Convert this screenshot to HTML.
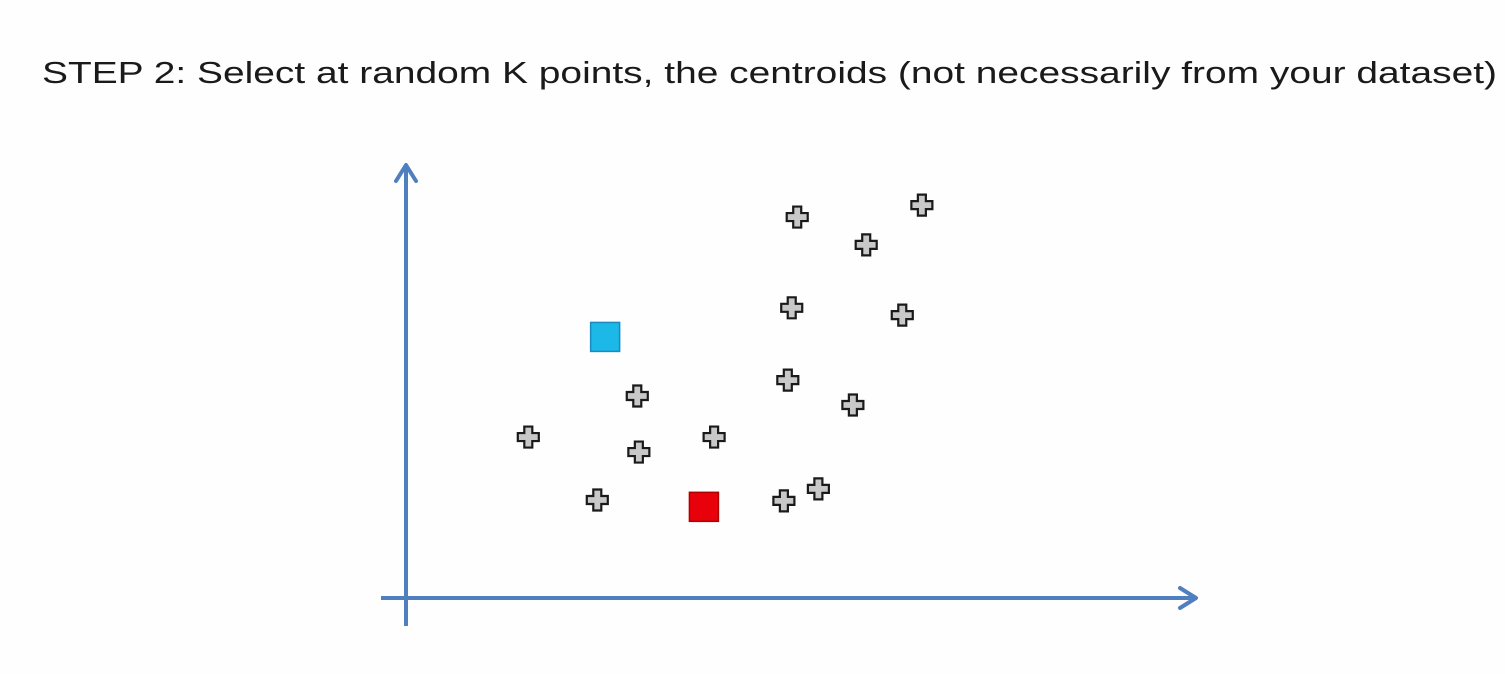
<!DOCTYPE html>
<html><head><meta charset="utf-8"><style>
html,body{margin:0;padding:0;background:#fefefe;width:1505px;height:674px;overflow:hidden}
svg{display:block}
</style></head><body>
<svg id="chart" width="1505" height="674">
<text x="42" y="83" font-family="Liberation Sans, sans-serif" font-size="31" fill="#1a1a1a" textLength="1455" lengthAdjust="spacingAndGlyphs">STEP 2: Select at random K points, the centroids (not necessarily from your dataset)</text>
<g>
<line x1="406" y1="626" x2="406" y2="165" stroke="#4f7fbf" stroke-width="4"/>
<polyline points="396,181 406,165 416,181" fill="none" stroke="#4f7fbf" stroke-width="4" stroke-linecap="round" stroke-linejoin="round"/>
</g>
<g>
<line x1="381" y1="598" x2="1196" y2="598" stroke="#4f7fbf" stroke-width="4"/>
<polyline points="1180,588 1196,598 1180,608" fill="none" stroke="#4f7fbf" stroke-width="4" stroke-linecap="round" stroke-linejoin="round"/>
</g>
<g id="marks"></g>
</svg>
<script>
const pointsX = [49.9,65.8,58.7,49.2,63.3,48.7,57.0,29.5,15.6,29.7,39.3,24.4,48.2,52.6];
const pointsY = [89.0,91.8,82.5,67.8,66.1,50.9,45.1,47.2,37.6,34.1,37.6,22.9,22.7,25.5];
const centroidX = [25.4,38.0];
const centroidY = [61.0,21.3];
const centroidColors = ['#1bb8e8','#e8000b'];
const centroidNames = ['centroid-blue','centroid-red'];
const sx = v => 406 + v*7.84;
const sy = v => 598 - v*4.28;
const NS = 'http://www.w3.org/2000/svg';
const g = document.getElementById('marks');
pointsX.forEach((v,i)=>{
  const cx = sx(v), cy = sy(pointsY[i]);
  const a = 10.5, w = 4;
  const d = `M${cx-w},${cy-a}H${cx+w}V${cy-w}H${cx+a}V${cy+w}H${cx+w}V${cy+a}H${cx-w}V${cy+w}H${cx-a}V${cy-w}H${cx-w}Z`;
  const p = document.createElementNS(NS,'path');
  p.setAttribute('d', d);
  p.setAttribute('fill', '#c8c8c8');
  p.setAttribute('stroke', '#1a1a1a');
  p.setAttribute('stroke-width', '2.2');
  
  
  g.appendChild(p);
});
centroidX.forEach((v,i)=>{
  const cx = sx(v), cy = sy(centroidY[i]);
  const r = document.createElementNS(NS,'rect');
  r.setAttribute('x', cx-14.5);
  r.setAttribute('y', cy-14.5);
  r.setAttribute('width', 29);
  r.setAttribute('height', 29);
  r.setAttribute('fill', centroidColors[i]);
  r.setAttribute('stroke', i===0 ? '#1a8ac0' : '#b00000');
  r.setAttribute('stroke-width', '1.5');
  
  
  g.appendChild(r);
});
</script>
</body></html>
